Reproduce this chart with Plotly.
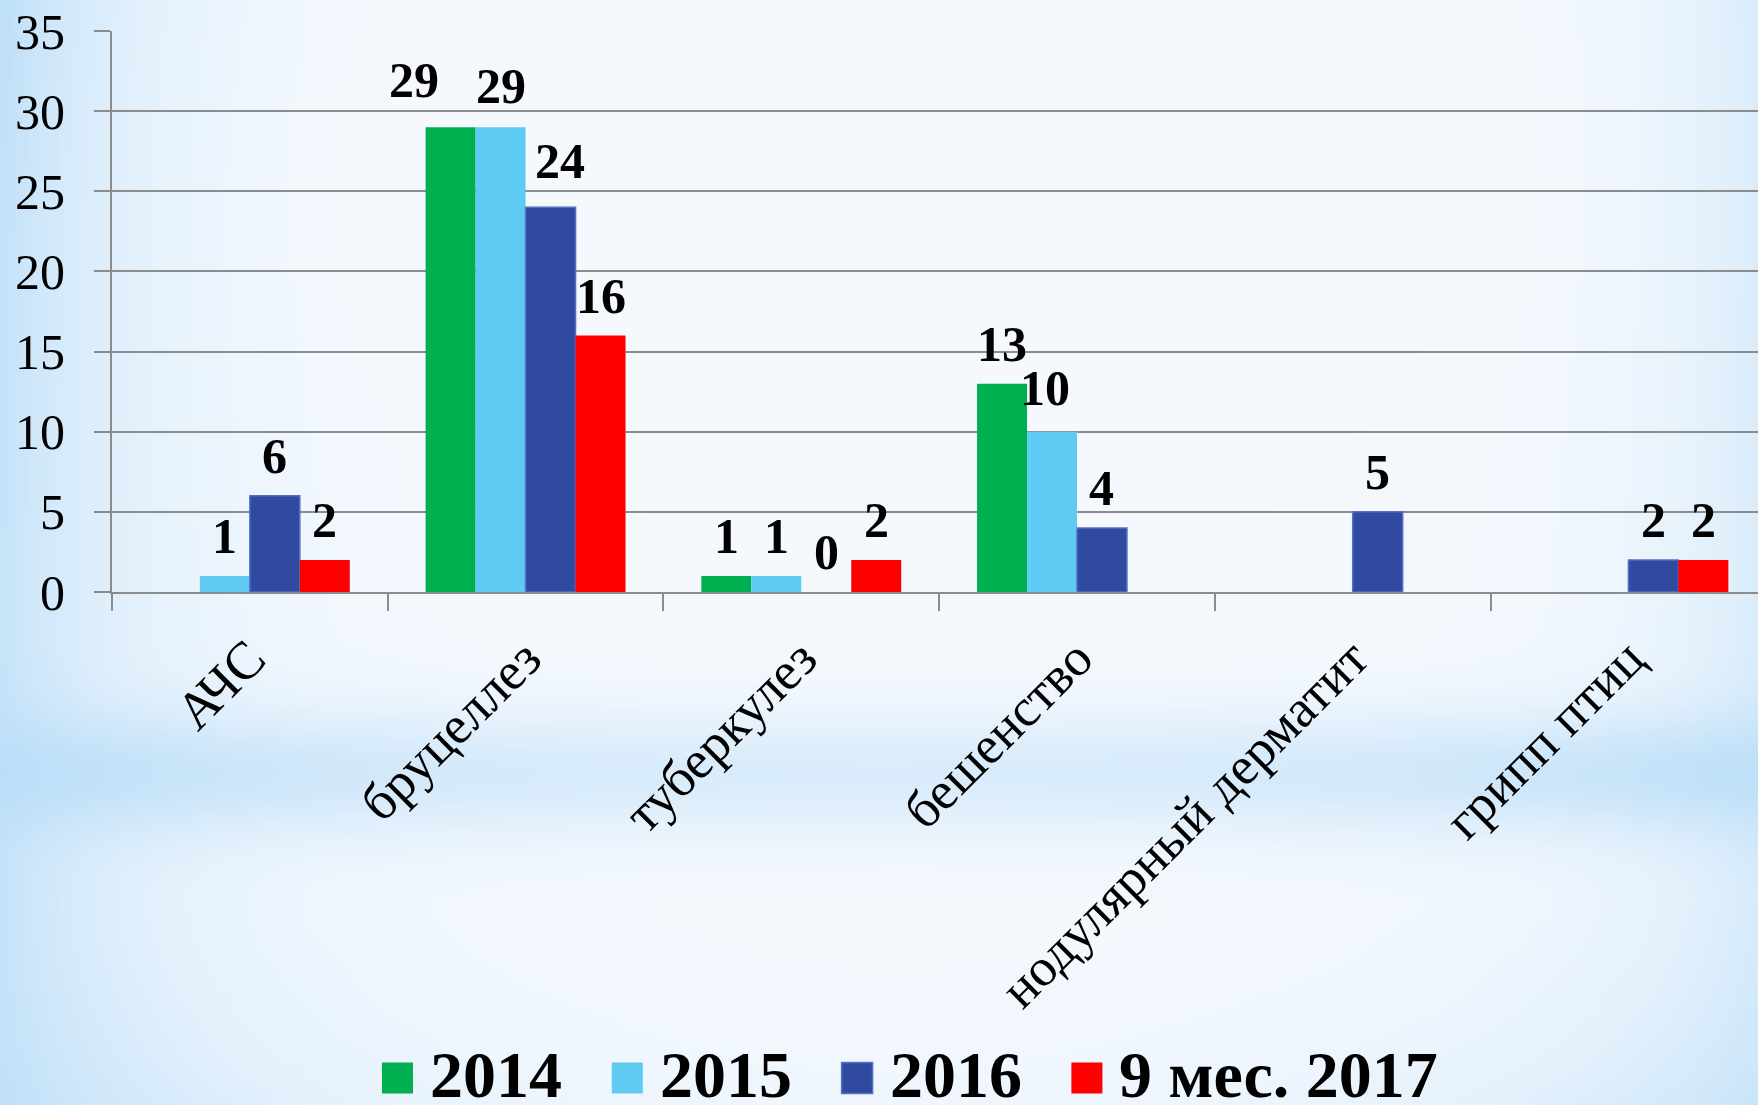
import base64, struct, zlib
import numpy as np
import plotly.graph_objects as go

# ---------------- data ----------------
categories = ["АЧС", "бруцеллез", "туберкулез", "бешенство", "нодулярный дерматит", "грипп птиц"]
series_names = ["2014", "2015", "2016", "9 мес. 2017"]
v2014 = [None, 29, 1, 13, None, None]
v2015 = [1, 29, 1, 10, None, None]
v2016 = [6, 24, 0, 4, 5, 2]
v2017 = [2, 16, 2, None, None, 2]
y_ticks = [0, 5, 10, 15, 20, 25, 30, 35]

series_values = [v2014, v2015, v2016, v2017]
colors = ["#00B050", "#5FCBF3", "#2F4A9E", "#FF0000"]
line_colors = ["#00B050", "#5FCBF3", "#5470C6", "#FF0000"]
line_widths = [0, 0, 1.5, 0]

# ---------------- layout geometry (px) ----------------
W, H = 1758, 1105
L_M, R_M, T_M, B_M = 112, 0, 31, 513
PW = W - L_M - R_M
PH = H - T_M - B_M
BARGAP = 0.275
n_s = len(series_names)
barw = (1 - BARGAP) / n_s


def px2x(px):
    return (px - L_M) / PW


def py2y(py):
    return (H - B_M - py) / PH


# ---------------- background gradient image ----------------
def make_bg():
    w, h = 240, 151
    u = (np.arange(w) + 0.5) / w
    v = (np.arange(h) + 0.5) / h
    U, V = np.meshgrid(u, v)
    base = np.array([245, 249, 254], dtype=float)
    blue = np.array([186, 222, 248], dtype=float)
    left = 0.95 * np.exp(-U / 0.075) * (0.8 + 0.2 * np.exp(-V / 0.3))
    right = 0.45 * np.exp(-(1 - U) / 0.06)
    band = np.exp(-((V - 0.70) / 0.055) ** 2) * (0.3 + 0.55 * (np.exp(-U / 0.25) + np.exp(-(1 - U) / 0.25)))
    bottom = np.exp(-(1 - V) / 0.12) * 0.55 * (np.exp(-U / 0.2) + np.exp(-(1 - U) / 0.2))
    glow = 0.12 * np.exp(-((U - 0.5) / 0.3) ** 2) * np.exp(-((V - 0.15) / 0.2) ** 2)
    f = 1 - (1 - np.clip(left, 0, 1)) * (1 - np.clip(right, 0, 1)) * (1 - np.clip(band, 0, 1)) * (1 - np.clip(bottom, 0, 1))
    f = np.clip(f - glow, 0, 1)
    img = base[None, None, :] * (1 - f[..., None]) + blue[None, None, :] * f[..., None]
    img = np.clip(img, 0, 255).astype(np.uint8)
    raw = b"".join(b"\x00" + img[r].tobytes() for r in range(h))

    def chunk(t, d):
        return struct.pack(">I", len(d)) + t + d + struct.pack(">I", zlib.crc32(t + d) & 0xFFFFFFFF)

    png = b"\x89PNG\r\n\x1a\n" + chunk(b"IHDR", struct.pack(">IIBBBBB", w, h, 8, 2, 0, 0, 0)) + \
        chunk(b"IDAT", zlib.compress(raw, 9)) + chunk(b"IEND", b"")
    return "data:image/png;base64," + base64.b64encode(png).decode()


# ---------------- figure ----------------
fig = go.Figure()
for i, name in enumerate(series_names):
    vals = series_values[i]
    lw = [line_widths[i] if (v is not None and v > 0) else 0 for v in vals]
    fig.add_trace(go.Bar(
        x=categories, y=vals, name=name,
        marker=dict(color=colors[i], line=dict(color=line_colors[i], width=lw)),
        showlegend=False, hoverinfo="x+y+name",
    ))

SERIF = "Liberation Serif, Times New Roman, serif"
annotations = []
# data labels
adjust = {(1, 0): (-37, 7), (1, 2): (9, 6), (3, 1): (-7, 4), (1, 1): (0, 1)}
for s, vals in enumerate(series_values):
    for c, val in enumerate(vals):
        if val is None:
            continue
        dx, dy = adjust.get((c, s), (0, 0))
        annotations.append(dict(
            x=c + (s - (n_s - 1) / 2) * barw, y=val, xref="x", yref="y",
            text=str(val), showarrow=False, yanchor="bottom", xanchor="center",
            xshift=dx, yshift=10 + dy,
            font=dict(family=SERIF, size=50, color="black", weight="bold"),
        ))

# manual legend
shapes = []
LEG_X0, LEG_STEP, LEG_Y = 382, 229.8, 1074
SQ = 31
for i, name in enumerate(series_names):
    x0 = LEG_X0 + i * LEG_STEP
    shapes.append(dict(type="rect", xref="paper", yref="paper",
                       x0=px2x(x0), x1=px2x(x0 + SQ), y0=py2y(1077 - SQ / 2 + 1), y1=py2y(1077 + SQ / 2 + 1),
                       fillcolor=colors[i], line=dict(color=line_colors[i], width=line_widths[i]),
                       layer="above"))
    annotations.append(dict(
        x=px2x(x0 + 46), y=py2y(LEG_Y), xref="paper", yref="paper",
        text=name, showarrow=False, xanchor="left", yanchor="middle",
        font=dict(family=SERIF, size=66, color="black", weight="bold"),
    ))

grid_col = "#8C8C8C"
fig.update_layout(
    width=W, height=H,
    margin=dict(l=L_M, r=R_M, t=T_M, b=B_M, pad=0),
    paper_bgcolor="white",
    plot_bgcolor="rgba(0,0,0,0)",
    barmode="group", bargap=BARGAP, bargroupgap=0,
    font=dict(family=SERIF, color="black"),
    showlegend=False,
    annotations=annotations,
    shapes=shapes,
    images=[dict(source=make_bg(), xref="paper", yref="paper",
                 x=px2x(0), y=py2y(0), sizex=W / PW, sizey=H / PH,
                 xanchor="left", yanchor="top", sizing="stretch", layer="below")],
    xaxis=dict(
        type="category", range=[-0.5, 5.47],
        showline=True, linecolor=grid_col, linewidth=2,
        ticks="outside", tickson="boundaries", ticklen=17, tickwidth=2, tickcolor=grid_col,
        tickangle=-45, tickfont=dict(family=SERIF, size=53, color="black"),
        ticklabelstandoff=12,
        showgrid=False, zeroline=False,
    ),
    yaxis=dict(
        range=[0, 35], tickvals=y_ticks,
        showline=True, linecolor=grid_col, linewidth=2,
        ticks="outside", ticklen=16, tickwidth=2, tickcolor=grid_col,
        tickfont=dict(family=SERIF, size=50, color="black"),
        ticklabelstandoff=19,
        showgrid=True, gridcolor=grid_col, gridwidth=2, zeroline=False,
    ),
)

fig.write_html("out.html", config={"displayModeBar": False},
               post_script="document.body.style.margin='0';document.body.style.overflow='hidden';")
